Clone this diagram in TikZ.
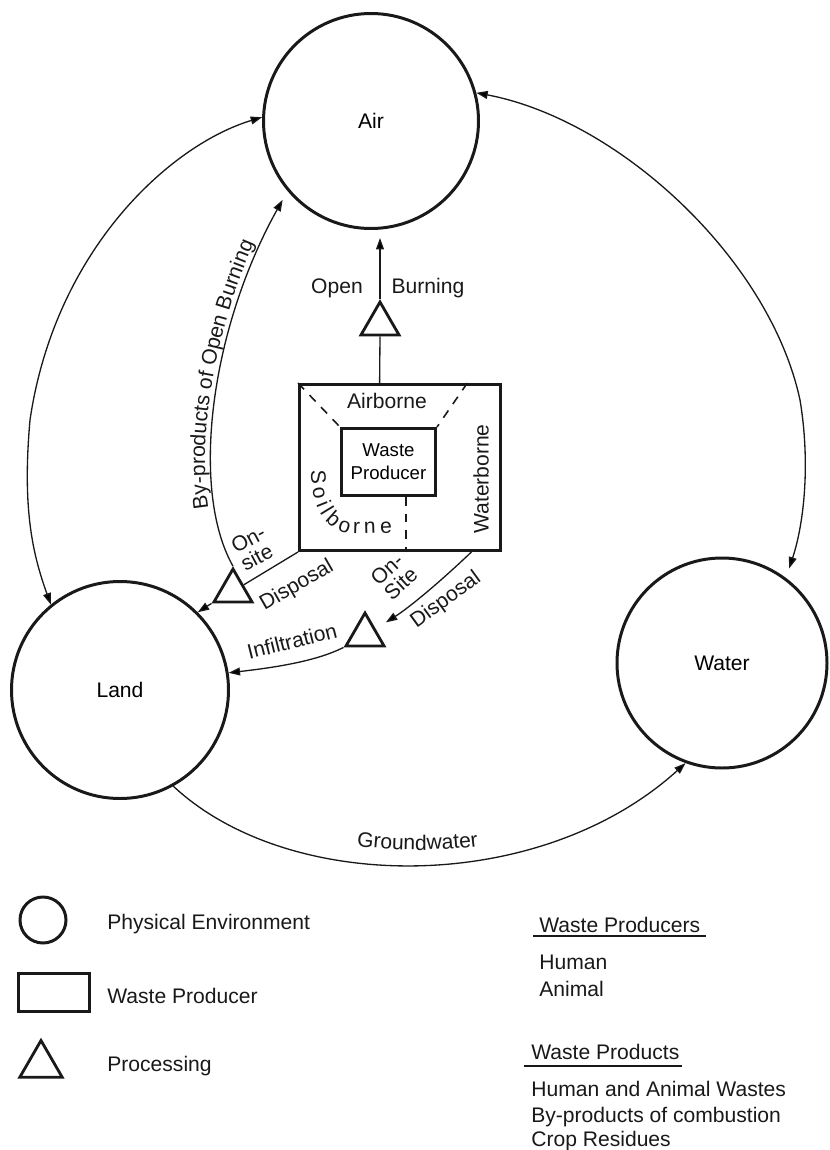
\documentclass[tikz,border=0pt]{standalone}
\usepackage{fontspec}
\setmainfont{Liberation Sans}
\usetikzlibrary{shapes.geometric,arrows.meta,calc,decorations.text}
\newcommand{\pxu}{0.02cm}
\newcommand{\lbl}{\fontsize{12}{14}\selectfont}
\newcommand{\sml}{\fontsize{10.6}{13}\selectfont}
\newcommand{\tightlbl}{\fontsize{12}{11.5}\selectfont}
\begin{document}
\begin{tikzpicture}[x=0.02cm,y=-0.02cm,
  >={Triangle[length=6.5pt,width=4.5pt]},
  env/.style={circle,draw=black!90,line width=1.7pt,inner sep=0pt,font=\lbl},
  prodbox/.style={rectangle,draw=black!90,line width=1.7pt,inner sep=0pt},
  proc/.style={regular polygon,regular polygon sides=3,draw=black!90,line width=1.6pt,inner sep=0pt,minimum size=44*\pxu},
  thin/.style={draw=black!90,line width=0.75pt},
  flow/.style={thin,->},
  biflow/.style={thin,<->},
  zone/.style={draw=black!90,line width=0.9pt,dash pattern=on 5pt off 4.5pt},
  lab/.style={font=\lbl,text=black!90,inner sep=0pt},
  pathtext/.style={decorate,decoration={text along path,text color=black!90}}]
\useasboundingbox (0,0) rectangle (830,1150);

% environments
\node[env,minimum size=215*\pxu] (air) at (371,121) {Air};
\node[env,minimum size=217*\pxu] (land) at (120,690) {Land};
\node[env,minimum size=210*\pxu] (water) at (722,663) {Water};

% waste producer box
\node[prodbox,minimum width=201*\pxu,minimum height=166*\pxu] (box) at (400,467.5) {};
\node[prodbox,minimum width=94*\pxu,minimum height=67*\pxu,font=\sml,align=center] (inner) at (388.5,462) {Waste\\Producer};
\draw[zone] (box.north west) -- (inner.north west);
\coordinate (zr) at ($(box.north west)!0.83!(box.north east)$);
\draw[zone] (zr) -- (inner.north east);
\coordinate (zb) at ($(inner.south west)!0.68!(inner.south east)$);
\draw[zone] (zb) -- (zb |- box.south);

\node[lab,anchor=base] (airb) at (387,408) {Airborne};
\node[lab,rotate=90] (watb) at (481,479) {Waterborne};
\path[pathtext,decoration={text={|\lbl|Soilborne},text align={fit to path}}]
  (311,470) .. controls (311,512) and (328,534) .. (358,534) -- (392,533);

% processing triangles
\node[proc] (tob) at (380,324) {};
\node[proc] (t1) at (233,591) {};
\node[proc] (t2) at (365,635) {};

% open burning
\coordinate (bt) at ($(box.north west)!0.4!(box.north east)$);
\draw[thin] (bt) -- (tob.south);
\draw[flow,shorten >=8*\pxu] (tob.north) -- (tob.north |- air.south);
\node[lab,anchor=base] (open) at (337,293) {Open};
\node[lab,anchor=base] (burn) at (428,293) {Burning};

% on-site disposal (soil)
\draw[thin] (box.south west) -- (t1.side 3);
\draw[flow] (t1.corner 2) -- (land.45);
\node[lab,rotate=28,align=left,font=\tightlbl] (os1) at (253,548) {On-\\site};
\node[lab,rotate=30] (dp1) at (297,586) {Disposal};

% on-site disposal (water)
\coordinate (os2s) at ($(box.south west)!0.85!(box.south east)$);
\draw[flow,shorten >=12*\pxu] (os2s) .. controls (441,581) and (410,607) .. (t2.side 3);
\node[lab,rotate=42,align=left,font=\tightlbl] (os2) at (394,576) {On-\\Site};
\node[lab,rotate=36] (dp2) at (446,600) {Disposal};

% infiltration
\draw[flow] (t2.corner 2) .. controls (315,662) and (270,668) .. (land.9);
\node[lab,rotate=14] (inf) at (292,641) {Infiltration};

% by-products of open burning
\draw[flow,shorten >=10*\pxu] (t1.north) .. controls (190,490) and (210,330) .. (air.220);
\path[pathtext,decoration={text={|\lbl|By-products of Open Burning},text align=center}]
  (228,566) .. controls (184,494) and (204,326) .. (281,188);

% air <-> land, air <-> water
\draw[biflow] (air.178) .. controls (170,145) and (55,250) .. (30,420)
  .. controls (22,510) and (33,555) .. (land.129);
\draw[biflow,shorten >=10*\pxu] (air.15) .. controls (620,120) and (770,260) .. (800,400)
  .. controls (810,460) and (805,520) .. (water.53);

% groundwater
\draw[flow] (land.-61) .. controls (290,895) and (540,895) .. (water.250);
\path[pathtext,decoration={text={|\lbl|Groundwater},text align=center}]
  (150,760) .. controls (290,880) and (545,880) .. (685,760);

% legend
\node[env,minimum size=46*\pxu] (lgc) at (43,920) {};
\node[lab,anchor=base west] (lgct) at (107,929) {Physical Environment};
\node[prodbox,minimum width=71*\pxu,minimum height=38*\pxu] (lgr) at (54,992.5) {};
\node[lab,anchor=base west] (lgrt) at (107,1003) {Waste Producer};
\node[proc,minimum size=49*\pxu] (lgt) at (41,1065) {};
\node[lab,anchor=base west] (lgtt) at (107,1071) {Processing};

\node[lab,anchor=base west] (wph) at (539,932) {Waste Producers};
\draw[thin] ([shift={(-6,4)}]wph.base west) -- ([shift={(5,4)}]wph.base east);
\node[lab,anchor=base west] (wp1) at (539,969) {Human};
\node[lab,anchor=base west] (wp2) at (539,996) {Animal};

\node[lab,anchor=base west] (wpr) at (531,1059) {Waste Products};
\draw[thin] ([shift={(-7,7)}]wpr.base west) -- ([shift={(2,7)}]wpr.base east);
\node[lab,anchor=base west] (pr1) at (531,1096) {Human and Animal Wastes};
\node[lab,anchor=base west] (pr2) at (531,1122) {By-products of combustion};
\node[lab,anchor=base west] (pr3) at (531,1146) {Crop Residues};
\end{tikzpicture}
\end{document}
